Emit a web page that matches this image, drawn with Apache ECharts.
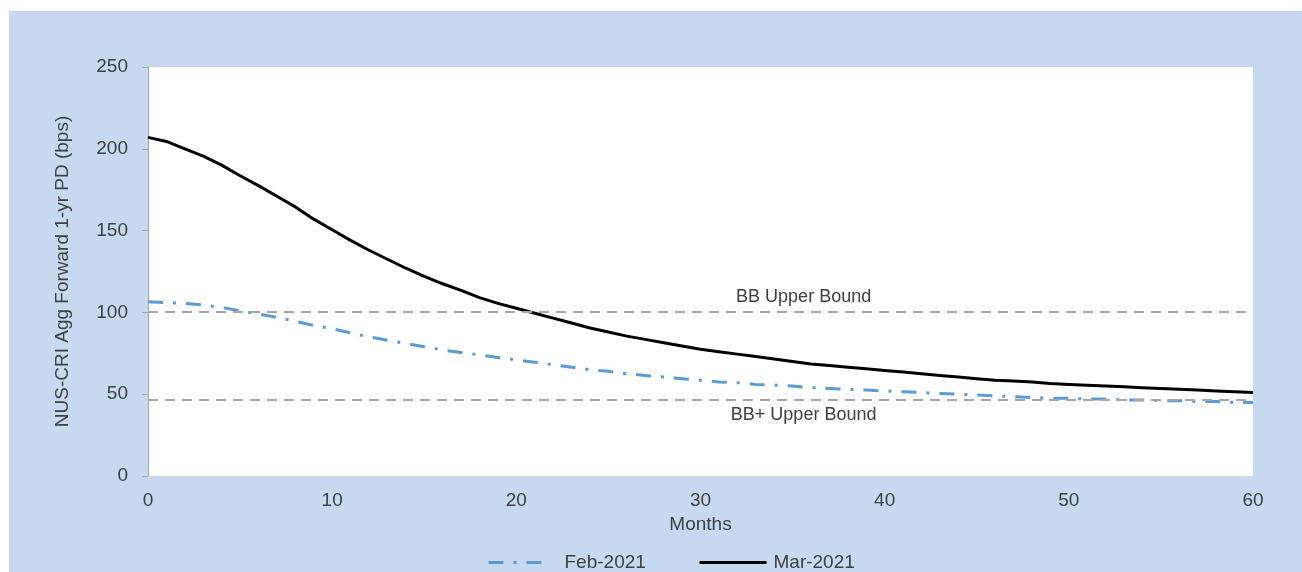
<!DOCTYPE html>
<html>
<head>
<meta charset="utf-8">
<script src="https://cdn.jsdelivr.net/npm/echarts@6/dist/echarts.min.js"></script>
<style>
  html, body { margin: 0; padding: 0; background: #fff; }
  #wrap { position: absolute; left: 9px; top: 11px; width: 1293px; height: 561px; background: #C6D9F0; }
  #main { width: 1293px; height: 561px; }
</style>
</head>
<body>
<div id="wrap"><div id="main"></div></div>
<script>
// months 0..60
let months = [];
for (let i = 0; i <= 60; i++) months.push(i);

let feb2021 = [106.5, 106, 105.5, 104.5, 103, 101, 99, 97, 94.5, 92,
    90, 87.5, 85, 83, 81, 79, 77, 75.5, 74, 72.5,
    71, 69.5, 68, 66.5, 65, 64, 62.5, 61.5, 60.5, 59.5,
    58.5, 57.5, 57, 56, 55.5, 55, 54, 53.5, 53, 52.5,
    52, 51.5, 51, 50.5, 50, 49.5, 49, 48.5, 48, 47.5,
    47.5, 47, 47, 46.5, 46.5, 46, 46, 45.5, 45.5, 45, 45];

let mar2021 = [207, 204.5, 200, 195.5, 190, 183.5, 177.5, 171, 164.5, 157,
    150.5, 144, 138, 132.5, 127, 122, 117.5, 113.5, 109, 105.5,
    102.5, 99.5, 96.5, 93.5, 90.5, 88, 85.5, 83.5, 81.5, 79.5,
    77.5, 76, 74.5, 73, 71.5, 70, 68.5, 67.5, 66.5, 65.5,
    64.5, 63.5, 62.5, 61.5, 60.5, 59.5, 58.5, 58, 57.5, 56.5,
    56, 55.5, 55, 54.5, 54, 53.5, 53, 52.5, 52, 51.5, 51];

let boundNames = ['BB Upper Bound', 'BB+ Upper Bound'];
let boundValues = [100.5, 46.5];
let boundLabelMonth = 35.6;
let yTicks = [0, 50, 100, 150, 200, 250];
let xTicks = [0, 10, 20, 30, 40, 50, 60];

let font = "'Liberation Sans', Arial, sans-serif";
let txt = '#404040';
let febDash = [15, 10, 3, 10];

let chart = echarts.init(document.getElementById('main'));
let option = {
    animation: false,
    textStyle: { fontFamily: font },
    grid: {
        left: 139, top: 56, right: 49, bottom: 96,
        show: true, backgroundColor: '#fff', borderWidth: 0
    },
    legend: [
        {
            left: 478, top: 542, padding: 0, itemWidth: 56, itemHeight: 14,
            data: ['Feb-2021'],
            itemStyle: { opacity: 0 },
            lineStyle: { width: 3, type: febDash, color: '#5B9BD5' },
            textStyle: { fontSize: 19, color: txt, fontFamily: font, padding: [0, 0, 0, 15] }
        },
        {
            left: 689, top: 542, padding: 0, itemWidth: 67, itemHeight: 14,
            data: ['Mar-2021'],
            itemStyle: { opacity: 0 },
            lineStyle: { width: 3, color: '#000' },
            textStyle: { fontSize: 19, color: txt, fontFamily: font, padding: [0, 0, 0, 2] }
        }
    ],
    xAxis: {
        type: 'value',
        min: xTicks[0], max: xTicks[xTicks.length - 1], interval: 10,
        name: 'Months', nameLocation: 'middle', nameGap: 37,
        nameTextStyle: { fontSize: 19, color: txt, fontFamily: font },
        axisLine: { lineStyle: { color: '#D9D9D9', width: 1 } },
        axisTick: { show: false },
        axisLabel: { fontSize: 19, color: txt, margin: 15, fontFamily: font },
        splitLine: { show: false }
    },
    yAxis: {
        type: 'value',
        min: yTicks[0], max: yTicks[yTicks.length - 1], interval: 50,
        name: 'NUS-CRI Agg Forward 1-yr PD (bps)', nameLocation: 'middle', nameGap: 76,
        nameTextStyle: { fontSize: 19, color: txt, fontFamily: font },
        axisLine: { show: true, lineStyle: { color: '#A6A6A6', width: 1 } },
        axisTick: { show: true, inside: false, length: 6, lineStyle: { color: '#A6A6A6' } },
        axisLabel: { fontSize: 19, color: txt, margin: 20, fontFamily: font },
        splitLine: { show: false }
    },
    series: [
        {
            name: 'Feb-2021',
            type: 'line',
            symbol: 'none',
            data: months.map((m, i) => [m, feb2021[i]]),
            lineStyle: { color: '#5B9BD5', width: 3, type: febDash },
            itemStyle: { color: '#5B9BD5' },
            z: 3
        },
        {
            name: 'Mar-2021',
            type: 'line',
            symbol: 'none',
            data: months.map((m, i) => [m, mar2021[i]]),
            lineStyle: { color: '#000', width: 3 },
            itemStyle: { color: '#000' },
            z: 4,
            markLine: {
                silent: true,
                symbol: 'none',
                label: { show: false },
                lineStyle: { color: '#A6A6A6', width: 2, type: [10, 7] },
                data: boundValues.map(v => ({ yAxis: v }))
            },
            markPoint: {
                silent: true,
                symbol: 'circle',
                symbolSize: 0,
                data: boundValues.map((v, i) => ({
                    coord: [boundLabelMonth, v],
                    label: {
                        show: true,
                        formatter: boundNames[i],
                        position: i === 0 ? 'top' : 'bottom',
                        distance: 6,
                        fontSize: 18,
                        color: txt,
                        fontFamily: font
                    }
                }))
            }
        }
    ]
};
chart.setOption(option);
</script>
</body>
</html>
